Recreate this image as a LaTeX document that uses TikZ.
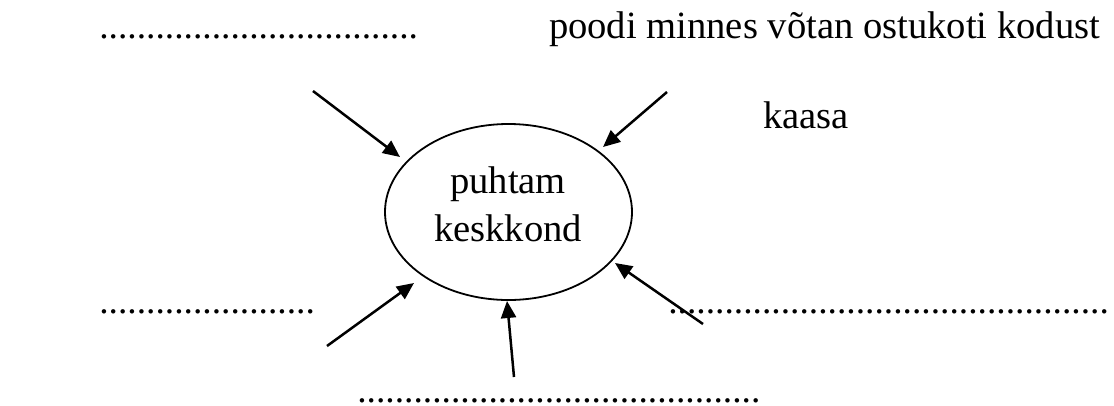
\documentclass[tikz,border=0pt]{standalone}
\usepackage{fontspec}
\setmainfont{Liberation Serif}
\usetikzlibrary{arrows.meta,shapes.geometric}
\newcommand\dotrow[1]{\foreach \i in {1,...,#1}{.}}
\begin{document}
\begin{tikzpicture}[x=1pt,y=-1pt,
  txt/.style={inner sep=0pt,outer sep=0pt,font=\fontsize{38.6}{46}\selectfont},
  dotline/.style={inner sep=0pt,outer sep=0pt,font=\fontsize{37.5}{46}\selectfont},
  arr/.style={line width=2.5pt,-{Triangle[length=17pt,width=15pt]}},
  ell/.style={draw,line width=1.8pt,ellipse,minimum width=247pt,minimum height=176pt,inner sep=0pt}]
\useasboundingbox (0,0) rectangle (1114,405);
% ellipse
\node[ell] (E) at (508.5,212) {};
\node[txt,anchor=base] (t1) at (508,193) {puhtam};
\node[txt,anchor=base] (t2) at (508,241) {keskkond};
% texts
\node[dotline,anchor=base west] (d1) at (99.3,38) {\dotrow{34}};
\node[txt,anchor=base west] (top) at (549,38) {poodi minnes võtan ostukoti kodust};
\node[txt,anchor=base west] (kaasa) at (763,128) {kaasa};
\node[dotline,anchor=base west] (d2) at (99.3,313) {\dotrow{23}};
\node[dotline,anchor=base west] (d3) at (668.3,313) {\dotrow{47}};
\node[dotline,anchor=base west] (d4) at (357.3,402) {\dotrow{43}};
% arrows
\coordinate (s1) at (313,91);  \coordinate (e1) at (400,157);
\coordinate (s2) at (667,92);  \coordinate (e2) at (603,147);
\coordinate (s3) at (327,346); \coordinate (e3) at (414,283);
\coordinate (s4) at (514,377); \coordinate (e4) at (507,301);
\coordinate (s5) at (703,324); \coordinate (e5) at (615,263);
\draw[arr] (s1) -- (e1);
\draw[arr] (s2) -- (e2);
\draw[arr] (s3) -- (e3);
\draw[arr] (s4) -- (e4);
\draw[arr] (s5) -- (e5);
\end{tikzpicture}
\end{document}
